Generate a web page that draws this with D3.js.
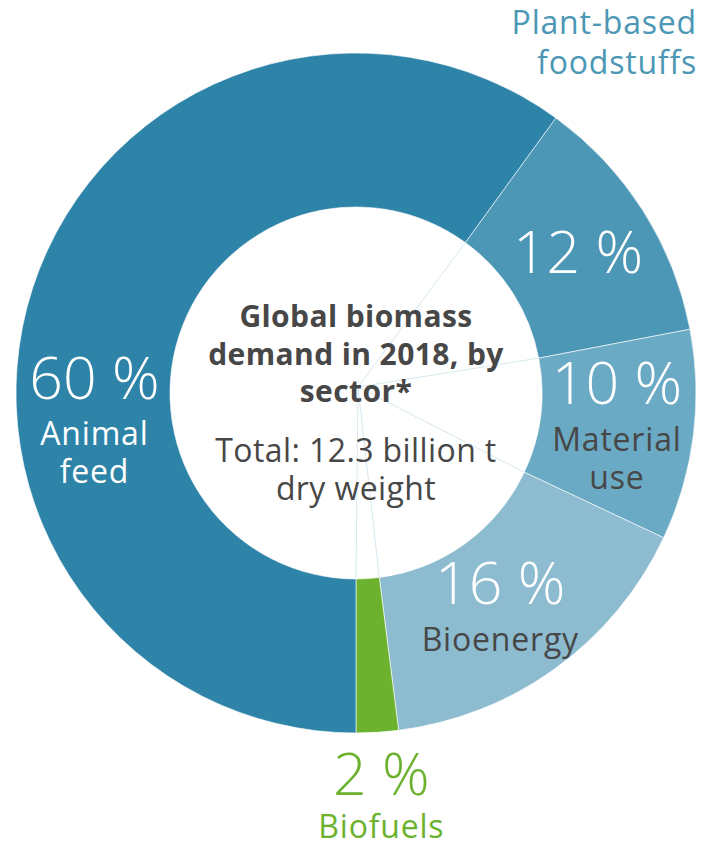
<!DOCTYPE html>
<html>
<head>
<meta charset="utf-8">
<script src="https://cdn.jsdelivr.net/npm/d3@7"></script>
<style>
  body { margin: 0; background: #fff; }
  svg text { font-family: "Open Sans", Roboto, sans-serif; }
</style>
</head>
<body>
<div id="chart"></div>
<script>
// data, clockwise from the top-right boundary
var sectors = ["Plant-based foodstuffs", "Material use", "Bioenergy", "Biofuels", "Animal feed"];
var shares = [12, 10, 16, 2, 60];
var labelLines = [["Plant-based", "foodstuffs"], ["Material", "use"], ["Bioenergy"], ["Biofuels"], ["Animal", "feed"]];
var colors = ["#4b97b5", "#6aaac4", "#8dbbd0", "#6cb22e", "#2e84a8"];
var titleLines = ["Global biomass", "demand in 2018, by", "sector*"];
var subLines = ["Total: 12.3 billion t", "dry weight"];

var width = 708, height = 847;
var cx = 356, cy = 393;
var outerR = 340, innerR = 186;

var svg = d3.select("#chart").append("svg")
  .attr("width", width)
  .attr("height", height);

var g = svg.append("g")
  .attr("transform", "translate(" + cx + "," + cy + ")");

var data = sectors.map(function(s, i) {
  return { name: s, value: shares[i], lines: labelLines[i], color: colors[i] };
});

var pie = d3.pie()
  .sort(null)
  .value(function(d) { return d.value; })
  .startAngle(Math.PI / 5)
  .endAngle(Math.PI / 5 + 2 * Math.PI);

var arcs = pie(data);

var arc = d3.arc().innerRadius(innerR).outerRadius(outerR);

g.selectAll("path.slice")
  .data(arcs)
  .enter().append("path")
  .attr("class", "slice")
  .attr("d", arc)
  .attr("fill", function(d) { return d.data.color; })
  .attr("stroke", "#fff")
  .attr("stroke-width", 0.6);

// faint spokes in the hole
g.selectAll("line.spoke")
  .data(arcs)
  .enter().append("line")
  .attr("class", "spoke")
  .attr("x1", 2).attr("y1", -6)
  .attr("x2", function(d) { return Math.sin(d.startAngle) * innerR; })
  .attr("y2", function(d) { return -Math.cos(d.startAngle) * innerR; })
  .attr("stroke", "#d6e8ef")
  .attr("stroke-width", 1);

// label placement
function anchor(d) {
  var a = (d.startAngle + d.endAngle) / 2, r = 263;
  if (d.data.name == "Animal feed") { a = 264 * Math.PI / 180; }
  if (d.data.name == "Bioenergy") { a = 146 * Math.PI / 180; r = 258; }
  if (d.data.name == "Biofuels") { r = 404; }
  return [Math.sin(a) * r, -Math.cos(a) * r];
}

var pctSize = 59, capH = 41, firstGap = 47, lineGap = 38;

arcs.forEach(function(d) {
  var p = anchor(d);
  var inside = d.data.name != "Plant-based foodstuffs";
  var n = inside ? d.data.lines.length : 0;
  var gap1 = d.data.name == "Biofuels" ? 43 : firstGap;
  var h = capH + (n > 0 ? gap1 + (n - 1) * lineGap : 0);
  var base = p[1] - h / 2 + capH;
  var pctColor = d.data.name == "Biofuels" ? d.data.color : "#fff";
  var labColor = "#fff";
  if (d.data.name == "Material use" || d.data.name == "Bioenergy") labColor = "#474747";
  if (d.data.name == "Biofuels") labColor = d.data.color;

  g.append("text")
    .attr("x", p[0]).attr("y", base)
    .attr("text-anchor", "middle")
    .style("font-size", pctSize + "px")
    .style("font-weight", 300)
    .style("fill", pctColor)
    .text(d.data.value + " %");

  for (var k = 0; k < n; k++) {
    g.append("text")
      .attr("x", p[0]).attr("y", base + gap1 + k * lineGap)
      .attr("text-anchor", "middle")
      .style("font-size", "32px")
      .style("letter-spacing", "0.8px")
      .style("fill", labColor)
      .text(d.data.lines[k]);
  }
});

// outside label for plant-based foodstuffs
svg.selectAll("text.outside")
  .data(labelLines[0])
  .enter().append("text")
  .attr("class", "outside")
  .attr("x", 697)
  .attr("y", function(d, i) { return 34 + i * 40; })
  .attr("text-anchor", "end")
  .style("font-size", "32px")
  .style("letter-spacing", "0.8px")
  .style("fill", colors[0])
  .text(function(d) { return d; });

// centre text
g.selectAll("text.title")
  .data(titleLines)
  .enter().append("text")
  .attr("class", "title")
  .attr("x", 0)
  .attr("y", function(d, i) { return -66 + i * 37.5; })
  .attr("text-anchor", "middle")
  .style("font-size", "30px")
  .style("font-weight", "bold")
  .style("letter-spacing", "0.4px")
  .style("fill", "#474747")
  .text(function(d) { return d; });

g.selectAll("text.sub")
  .data(subLines)
  .enter().append("text")
  .attr("class", "sub")
  .attr("x", 0)
  .attr("y", function(d, i) { return 69 + i * 38; })
  .attr("text-anchor", "middle")
  .style("font-size", "32px")
  .style("letter-spacing", "0.4px")
  .style("fill", "#474747")
  .text(function(d) { return d; });
</script>
</body>
</html>
